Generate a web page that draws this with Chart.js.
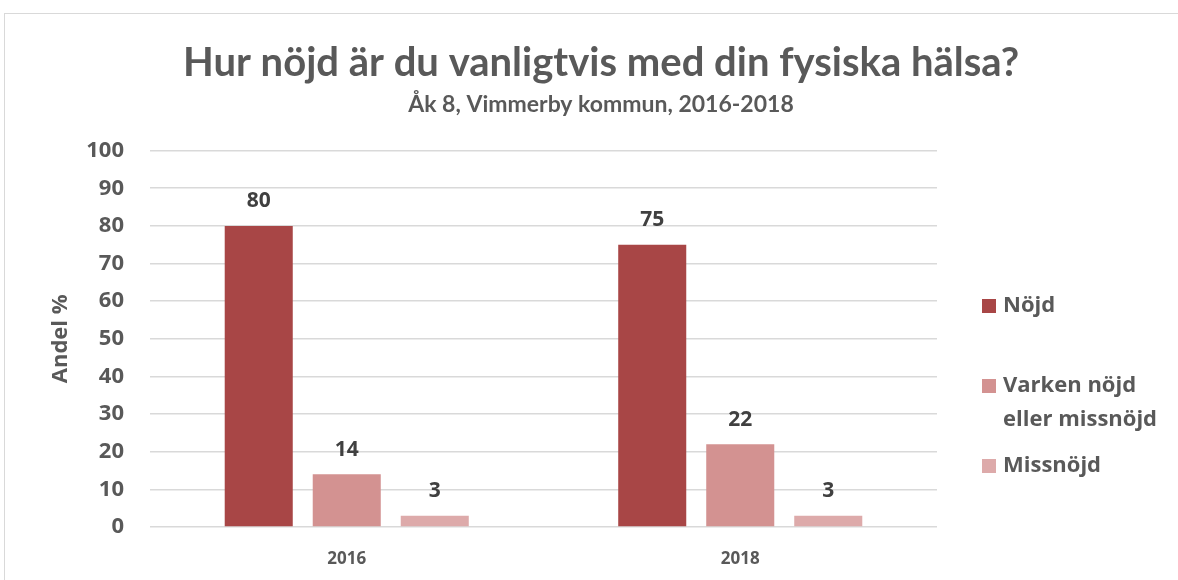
<!DOCTYPE html>
<html>
<head>
<meta charset="utf-8">
<script src="https://cdn.jsdelivr.net/npm/chart.js@4.4.1/dist/chart.umd.min.js"></script>
<style>
  html, body { margin: 0; padding: 0; background: #fff; }
  #wrap { position: relative; width: 1178px; height: 580px; }
  #frame { position: absolute; left: 4px; top: 13px; right: -2px; bottom: -2px; border-top: 1.5px solid #d9d9d9; border-left: 1.5px solid #d9d9d9; }
  canvas { position: absolute; left: 0; top: 0; }
</style>
</head>
<body>
<div id="wrap">
  <div id="frame"></div>
  <canvas id="c" width="1178" height="580"></canvas>
</div>
<script>
const years = ['2016', '2018'];
const seriesNames = ['Nöjd', 'Varken nöjd\neller missnöjd', 'Missnöjd'];
const nojd = [80, 75];
const varken = [14, 22];
const missnojd = [3, 3];
const yTicks = [0, 10, 20, 30, 40, 50, 60, 70, 80, 90, 100];

const colors = ['#a84646', '#d39291', '#ddaaaa'];
const textGray = '#595959';

// value labels above each bar
const valueLabels = {
  id: 'valueLabels',
  afterDatasetsDraw(chart) {
    const ctx = chart.ctx;
    ctx.save();
    ctx.font = 'bold 21px "Open Sans"';
    ctx.fillStyle = '#404040';
    ctx.textAlign = 'center';
    ctx.textBaseline = 'bottom';
    chart.data.datasets.forEach((ds, i) => {
      chart.getDatasetMeta(i).data.forEach((bar, j) => {
        ctx.fillText(String(ds.data[j]), bar.x, bar.y - 14);
      });
    });
    ctx.restore();
  }
};

// legend on the right, with wrapped labels
const sideLegend = {
  id: 'sideLegend',
  afterDraw(chart, args, opts) {
    const ctx = chart.ctx;
    const x = chart.chartArea.right + opts.offsetX;
    ctx.save();
    ctx.font = 'bold 22px "Open Sans"';
    ctx.textBaseline = 'middle';
    chart.data.datasets.forEach((ds, i) => {
      const yc = opts.rows[i];
      ctx.fillStyle = ds.backgroundColor;
      ctx.fillRect(x, yc - 7, 14, 14);
      ctx.fillStyle = textGray;
      String(ds.label).split('\n').forEach((line, k) => {
        ctx.fillText(line, x + 21, yc + k * opts.lineGap);
      });
    });
    ctx.restore();
  }
};

new Chart(document.getElementById('c'), {
  type: 'bar',
  data: {
    labels: years,
    datasets: [
      { label: seriesNames[0], data: nojd, backgroundColor: colors[0] },
      { label: seriesNames[1], data: varken, backgroundColor: colors[1] },
      { label: seriesNames[2], data: missnojd, backgroundColor: colors[2] }
    ]
  },
  options: {
    responsive: false,
    animation: false,
    layout: { padding: { left: 24, right: 0, top: 39, bottom: 0 } },
    categoryPercentage: 0.671,
    barPercentage: 0.773,
    plugins: {
      legend: { display: false },
      tooltip: { enabled: false },
      title: {
        display: true,
        text: 'Hur nöjd är du vanligtvis med din fysiska hälsa?',
        color: textGray,
        font: { family: 'Lato', weight: 'bold', size: 40 },
        padding: { top: 0, bottom: 1 }
      },
      subtitle: {
        display: true,
        text: 'Åk 8, Vimmerby kommun, 2016-2018',
        color: textGray,
        font: { family: 'Lato', weight: 'bold', size: 23 },
        padding: { top: 3, bottom: 32 }
      },
      sideLegend: { offsetX: 45, rows: [306, 386, 466], lineGap: 34 }
    },
    scales: {
      x: {
        grid: { display: false },
        border: { display: false },
        ticks: { color: textGray, font: { family: 'Open Sans', weight: 'bold', size: 17 }, padding: 14 },
        afterFit(s) { s.height = 53; }
      },
      y: {
        min: 0, max: 100,
        afterBuildTicks(s) { s.ticks = yTicks.map(v => ({ value: v })); },
        grid: { color: '#d9d9d9', lineWidth: 1.5, drawTicks: false },
        border: { display: false },
        ticks: { color: textGray, font: { family: 'Open Sans', weight: 'bold', size: 22 }, padding: 26 },
        title: { display: true, text: 'Andel %', color: textGray, font: { family: 'Open Sans', weight: 'bold', size: 22 }, padding: { top: 24, bottom: 0 } },
        afterFit(s) { s.width = 126; }
      },
      spacer: {
        position: 'right',
        grid: { display: false },
        border: { display: false },
        ticks: { display: false },
        afterFit(s) { s.width = 241; }
      }
    }
  },
  plugins: [valueLabels, sideLegend]
});
</script>
</body>
</html>
